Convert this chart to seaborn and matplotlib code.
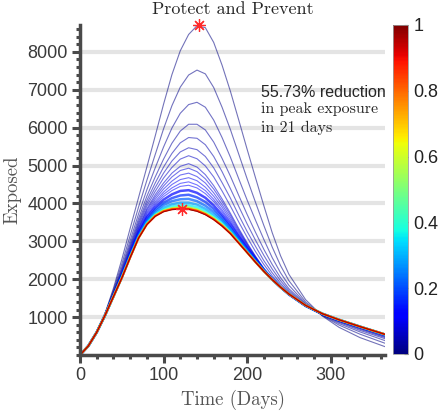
import pandas as pd
import matplotlib
matplotlib.use('Agg')
import matplotlib.pyplot as plt
import seaborn as sns
from matplotlib.ticker import MultipleLocator

# sample days
days = [0, 10, 20, 30, 40, 50, 60, 70, 80, 90, 100, 110, 120, 130, 140, 150, 160, 170, 180,
        190, 200, 210, 220, 230, 240, 250, 270, 290, 310, 335, 365]

# exposed counts, one list per control level
exposed_p000 = [0, 240, 600, 1100, 1760, 2520, 3340, 4150, 4960, 5780, 6620, 7400, 8030, 8460, 8690, 8640, 8250, 7650, 6960, 6200, 5430, 4680, 3940, 3230, 2620, 2130, 1460, 1030, 730, 460, 220]
exposed_p001 = [0, 240, 600, 1090, 1710, 2400, 3150, 3900, 4610, 5290, 5970, 6580, 7070, 7390, 7520, 7420, 7060, 6540, 5950, 5300, 4650, 4030, 3420, 2850, 2360, 1960, 1400, 1040, 790, 550, 310]
exposed_p002 = [0, 240, 600, 1080, 1670, 2310, 3020, 3720, 4360, 4940, 5490, 5990, 6380, 6610, 6670, 6540, 6200, 5740, 5220, 4650, 4090, 3560, 3050, 2570, 2170, 1840, 1360, 1050, 830, 610, 380]
exposed_p003 = [0, 240, 600, 1070, 1640, 2260, 2930, 3600, 4190, 4700, 5170, 5590, 5910, 6090, 6090, 5940, 5620, 5190, 4720, 4210, 3710, 3240, 2790, 2390, 2040, 1750, 1340, 1060, 860, 650, 430]
exposed_p004 = [0, 240, 600, 1070, 1620, 2220, 2870, 3520, 4080, 4540, 4960, 5320, 5600, 5740, 5720, 5550, 5240, 4840, 4390, 3920, 3460, 3030, 2630, 2270, 1960, 1700, 1320, 1060, 880, 680, 460]
exposed_p005 = [0, 240, 600, 1070, 1610, 2190, 2820, 3460, 4000, 4420, 4800, 5120, 5360, 5470, 5420, 5240, 4940, 4550, 4140, 3690, 3260, 2870, 2490, 2170, 1890, 1660, 1300, 1060, 890, 700, 480]
exposed_p006 = [0, 240, 600, 1060, 1600, 2160, 2790, 3410, 3930, 4320, 4670, 4950, 5170, 5260, 5180, 4990, 4700, 4330, 3930, 3510, 3110, 2730, 2390, 2090, 1840, 1620, 1290, 1070, 900, 710, 500]
exposed_p007 = [0, 240, 600, 1060, 1590, 2140, 2750, 3360, 3860, 4230, 4540, 4800, 4980, 5050, 4960, 4760, 4470, 4120, 3740, 3340, 2960, 2610, 2290, 2020, 1790, 1590, 1280, 1070, 920, 730, 520]
exposed_p008 = [0, 240, 600, 1060, 1590, 2130, 2730, 3330, 3820, 4170, 4460, 4700, 4870, 4930, 4840, 4650, 4380, 4050, 3690, 3300, 2930, 2590, 2280, 2020, 1790, 1590, 1280, 1070, 920, 730, 520]
exposed_p009 = [0, 240, 600, 1060, 1580, 2120, 2710, 3300, 3770, 4110, 4380, 4590, 4750, 4800, 4710, 4540, 4280, 3970, 3630, 3260, 2910, 2580, 2270, 2010, 1790, 1590, 1290, 1070, 920, 730, 520]
exposed_p010 = [0, 240, 600, 1060, 1570, 2110, 2690, 3270, 3730, 4050, 4300, 4500, 4630, 4680, 4600, 4430, 4190, 3900, 3570, 3220, 2880, 2560, 2260, 2010, 1790, 1600, 1290, 1080, 920, 740, 520]
exposed_p011 = [0, 240, 600, 1060, 1570, 2100, 2680, 3250, 3690, 4000, 4240, 4410, 4530, 4570, 4490, 4340, 4110, 3830, 3520, 3180, 2860, 2550, 2260, 2010, 1790, 1600, 1290, 1080, 920, 740, 530]
exposed_p012 = [0, 240, 600, 1060, 1570, 2090, 2670, 3230, 3660, 3960, 4180, 4340, 4450, 4480, 4410, 4260, 4050, 3780, 3490, 3160, 2840, 2540, 2250, 2010, 1790, 1600, 1290, 1080, 920, 740, 530]
exposed_p013 = [0, 240, 600, 1060, 1560, 2080, 2650, 3200, 3620, 3900, 4100, 4240, 4330, 4350, 4280, 4150, 3950, 3700, 3430, 3110, 2810, 2520, 2240, 2000, 1790, 1600, 1300, 1080, 920, 740, 530]
exposed_p017 = [0, 240, 600, 1050, 1560, 2070, 2630, 3170, 3570, 3840, 4020, 4140, 4210, 4230, 4160, 4040, 3860, 3630, 3370, 3080, 2780, 2500, 2240, 2000, 1790, 1600, 1300, 1080, 920, 740, 540]
exposed_p022 = [0, 240, 600, 1050, 1550, 2060, 2610, 3140, 3540, 3790, 3960, 4060, 4110, 4120, 4060, 3940, 3780, 3570, 3320, 3040, 2760, 2490, 2230, 2000, 1790, 1610, 1300, 1090, 930, 750, 540]
exposed_p028 = [0, 240, 600, 1050, 1550, 2050, 2600, 3120, 3500, 3750, 3890, 3980, 4020, 4020, 3970, 3860, 3710, 3540, 3310, 3010, 2740, 2470, 2220, 1990, 1790, 1610, 1310, 1090, 930, 750, 540]
exposed_p036 = [0, 240, 600, 1050, 1540, 2040, 2590, 3100, 3480, 3710, 3850, 3920, 3950, 3950, 3900, 3800, 3650, 3470, 3250, 2990, 2720, 2460, 2220, 1990, 1790, 1610, 1310, 1090, 930, 750, 540]
exposed_p055 = [0, 240, 600, 1050, 1540, 2040, 2580, 3090, 3460, 3690, 3820, 3880, 3910, 3900, 3850, 3750, 3620, 3440, 3230, 2970, 2710, 2460, 2210, 1990, 1790, 1610, 1310, 1090, 930, 750, 545]
exposed_p070 = [0, 240, 600, 1050, 1540, 2035, 2575, 3085, 3450, 3675, 3800, 3860, 3880, 3870, 3820, 3725, 3590, 3420, 3215, 2960, 2705, 2455, 2210, 1990, 1790, 1610, 1310, 1090, 930, 750, 545]
exposed_p088 = [0, 240, 600, 1050, 1540, 2030, 2570, 3085, 3445, 3665, 3790, 3845, 3865, 3855, 3805, 3715, 3580, 3410, 3205, 2955, 2705, 2450, 2210, 1990, 1790, 1610, 1310, 1090, 930, 750, 545]
exposed_p100 = [0, 240, 600, 1050, 1540, 2030, 2570, 3080, 3440, 3660, 3780, 3835, 3850, 3840, 3790, 3700, 3570, 3400, 3200, 2950, 2700, 2450, 2210, 1990, 1790, 1610, 1310, 1090, 930, 750, 545]

fan_levels = [0.00, 0.01, 0.02, 0.03, 0.04, 0.05, 0.06, 0.07, 0.08, 0.09, 0.10, 0.11, 0.12]
fan_curves = [exposed_p000, exposed_p001, exposed_p002, exposed_p003, exposed_p004, exposed_p005,
              exposed_p006, exposed_p007, exposed_p008, exposed_p009, exposed_p010, exposed_p011,
              exposed_p012]
cool_levels = [0.13, 0.17, 0.22, 0.28, 0.36]
cool_curves = [exposed_p013, exposed_p017, exposed_p022, exposed_p028, exposed_p036]
warm_levels = [0.55, 0.70, 0.88]
warm_curves = [exposed_p055, exposed_p070, exposed_p088]
last_levels = [1.00]
last_curves = [exposed_p100]

# peaks marked with asterisks (no control / full control)
peak_days = [143, 122]
peak_values = [8710, 3850]


def to_long(levels, curves):
    frames = [pd.DataFrame({'Time': days, 'Exposed': c, 'level': lv})
              for lv, c in zip(levels, curves)]
    return pd.concat(frames, ignore_index=True)


sns.set_style('white')
plt.rcParams['font.family'] = ['Liberation Sans', 'DejaVu Sans']
serif = 'cmr10'
ink = '#4a4a4a'
jet = matplotlib.colormaps['jet']

fig = plt.figure(figsize=(4.4, 4.18), dpi=100)
ax = fig.add_axes([80 / 440, 1 - 355 / 418, 305 / 440, 330 / 418])
cax = fig.add_axes([393 / 440, 1 - 354 / 418, 15 / 440, 329 / 418])

common = dict(x='Time', y='Exposed', hue='level', palette=jet, hue_norm=(0, 1),
              estimator=None, sort=False, legend=False, ax=ax)
sns.lineplot(data=to_long(fan_levels, fan_curves), linewidth=0.8, alpha=0.55, **common)
sns.lineplot(data=to_long(cool_levels, cool_curves), linewidth=1.8, alpha=0.7, **common)
sns.lineplot(data=to_long(warm_levels, warm_curves), linewidth=1.4, alpha=0.95, **common)
sns.lineplot(data=to_long(last_levels, last_curves), linewidth=0.6, alpha=0.9, **common)

ax.plot(peak_days, peak_values, ls='none', marker=(8, 2, 0), ms=9, mec='#ff2a2a',
        mew=0.9, clip_on=False, zorder=5)

ax.set_xlim(0, 365)
ax.set_ylim(0, 8710)
ax.set_xticks([0, 100, 200, 300])
ax.set_yticks(range(1000, 9000, 1000))
ax.xaxis.set_minor_locator(MultipleLocator(20))
ax.yaxis.set_minor_locator(MultipleLocator(200))
ax.tick_params(which='both', bottom=True, left=True, direction='out', color=ink)
ax.tick_params(which='major', length=6, width=2.2, labelsize=13, labelcolor='#3a3a3a', pad=3)
ax.tick_params(which='minor', length=3, width=2.2)
ax.grid(axis='y', color='#e4e4e4', linewidth=3)
ax.set_axisbelow(True)
for side in ['top', 'right']:
    ax.spines[side].set_visible(False)
for side in ['left', 'bottom']:
    ax.spines[side].set_linewidth(2.5)
    ax.spines[side].set_color(ink)

ax.set_title('Protect and Prevent', fontfamily=serif, fontsize=13, pad=8)
ax.set_xlabel('Time (Days)', fontfamily=serif, fontsize=13.5, color='#555555', labelpad=4)
ax.set_ylabel('Exposed', fontfamily=serif, fontsize=13.5, color='#555555', labelpad=4)

ax.text(217, 6800, '55.73% reduction', fontsize=11.5, va='baseline')
ax.text(217, 6385, 'in peak exposure', fontfamily=serif, fontsize=11.5, va='baseline')
ax.text(217, 5890, 'in 21 days', fontfamily=serif, fontsize=11.5, va='baseline')

sm = plt.cm.ScalarMappable(cmap=jet, norm=plt.Normalize(0, 1))
cb = fig.colorbar(sm, cax=cax, ticks=[0, 0.2, 0.4, 0.6, 0.8, 1])
cb.ax.set_yticklabels(['0', '0.2', '0.4', '0.6', '0.8', '1'])
cb.outline.set_edgecolor('#9a9a9a')
cb.outline.set_linewidth(0.6)
cb.ax.tick_params(direction='in', right=True, length=3, width=0.8, color='#555555',
                  labelsize=13, labelcolor='#222222', pad=4)

fig.savefig('out.png', dpi=100)
